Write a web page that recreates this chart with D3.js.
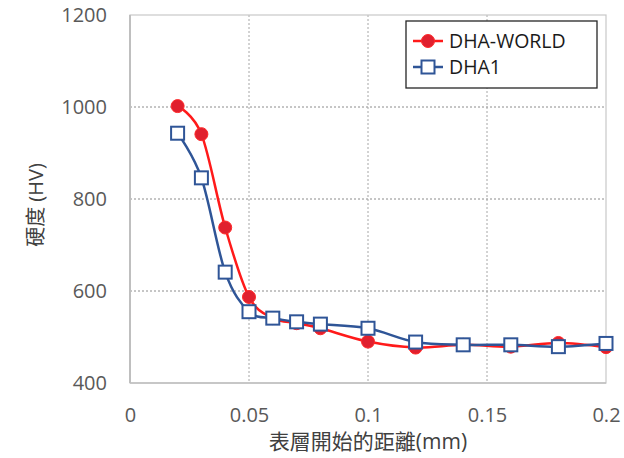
<!DOCTYPE html>
<html><head><meta charset="utf-8">
<script src="https://cdn.jsdelivr.net/npm/d3@7"></script>
<style>
html,body{margin:0;padding:0;background:#fff;}
text{font-family:"Open Sans","Noto Sans","Noto Sans CJK TC",sans-serif;}
</style></head>
<body><svg id="c" width="624" height="458"></svg>
<script>
const depths = [0.02,0.03,0.04,0.05,0.06,0.07,0.08,0.1,0.12,0.14,0.16,0.18,0.2];
const dhaWorld = [1002,941,738,587,541,530,519,490,477,483,479,487,478];
const dha1 = [943,846,641,555,541,533,528,519,489,483,483,479,486];
const seriesNames = ["DHA-WORLD","DHA1"];
const xTicks = [0,0.05,0.1,0.15,0.2];
const yTicks = [400,600,800,1000,1200];
const xTitle = "表層開始的距離(mm)";
const yTitle = "硬度 (HV)";

const svg = d3.select("#c");
const L=130,R=606,T=15,B=383;
const x = d3.scaleLinear().domain([0,0.2]).range([L,R]);
const y = d3.scaleLinear().domain([400,1200]).range([B,T]);

// gridlines
svg.append("g").selectAll("line").data(yTicks.filter(d=>d>400&&d<1200)).join("line")
  .attr("x1",L).attr("x2",R).attr("y1",d=>y(d)).attr("y2",d=>y(d))
  .attr("stroke","#8c8c8c").attr("stroke-width",1).attr("stroke-dasharray","2,2");
svg.append("g").selectAll("line").data(xTicks.filter(d=>d>0&&d<0.2)).join("line")
  .attr("y1",T).attr("y2",B).attr("x1",d=>x(d)).attr("x2",d=>x(d))
  .attr("stroke","#a6a6a6").attr("stroke-width",1).attr("stroke-dasharray","2,2");
// frame
svg.append("rect").attr("x",L).attr("y",T).attr("width",R-L).attr("height",B-T)
  .attr("fill","none").attr("stroke","#c8c8c8").attr("stroke-width",1.2);
svg.append("line").attr("x1",L).attr("x2",L).attr("y1",T).attr("y2",B).attr("stroke","#bfbfbf").attr("stroke-width",2);
svg.append("line").attr("x1",L).attr("x2",R).attr("y1",B).attr("y2",B).attr("stroke","#bfbfbf").attr("stroke-width",1.5);

// axes
const xAxis = svg.append("g").attr("transform",`translate(0,${B})`)
  .call(d3.axisBottom(x).tickValues(xTicks).tickFormat(d=>String(d)).tickSize(0).tickPadding(25));
const yAxis = svg.append("g").attr("transform",`translate(${L},0)`)
  .call(d3.axisLeft(y).tickValues(yTicks).tickFormat(d=>String(d)).tickSize(0).tickPadding(23));
[xAxis,yAxis].forEach(a=>{a.select(".domain").remove();
  a.selectAll("text").attr("font-size",20).attr("fill","#595959")
   .attr("font-family","'Open Sans','Noto Sans',sans-serif");});

svg.append("text").attr("x",(L+R)/2).attr("y",449).attr("text-anchor","middle")
  .attr("font-size",21).attr("fill","#404040").text(xTitle);
svg.append("text").attr("transform","translate(43,205) rotate(-90)").attr("text-anchor","middle")
  .attr("font-size",20).attr("fill","#404040").text(yTitle);

const line = d3.line().x((d,i)=>x(depths[i])).y(d=>y(d)).curve(d3.curveCatmullRom.alpha(0));
const redLine="#ff1a1a", redFill="#e0202e", blue="#2f5597";

svg.append("path").datum(dhaWorld).attr("d",line).attr("fill","none").attr("stroke",redLine).attr("stroke-width",2.5);
svg.append("path").datum(dha1).attr("d",line).attr("fill","none").attr("stroke",blue).attr("stroke-width",2.5);

svg.append("g").selectAll("circle").data(dhaWorld).join("circle")
  .attr("cx",(d,i)=>x(depths[i])).attr("cy",d=>y(d)).attr("r",6.5)
  .attr("fill",redFill).attr("stroke","#ff2a2a").attr("stroke-width",1);
svg.append("g").selectAll("rect").data(dha1).join("rect")
  .attr("x",(d,i)=>x(depths[i])-6.5).attr("y",d=>y(d)-6.5).attr("width",13).attr("height",13)
  .attr("fill","#fff").attr("stroke",blue).attr("stroke-width",2);

// legend
const lg = svg.append("g");
lg.append("rect").attr("x",406).attr("y",21).attr("width",191).attr("height",67)
  .attr("fill","#fff").attr("stroke","#262626").attr("stroke-width",1.3);
const ly=[41,67];
lg.append("line").attr("x1",413).attr("x2",443).attr("y1",ly[0]).attr("y2",ly[0]).attr("stroke",redLine).attr("stroke-width",2.5);
lg.append("circle").attr("cx",428).attr("cy",ly[0]).attr("r",6.5).attr("fill",redFill).attr("stroke","#ff2a2a");
lg.append("line").attr("x1",413).attr("x2",443).attr("y1",ly[1]).attr("y2",ly[1]).attr("stroke",blue).attr("stroke-width",2.5);
lg.append("rect").attr("x",428-6.5).attr("y",ly[1]-6.5).attr("width",13).attr("height",13).attr("fill","#fff").attr("stroke",blue).attr("stroke-width",2);
seriesNames.forEach((n,i)=>lg.append("text").attr("x",449).attr("y",ly[i]+7).attr("font-size",19.5).attr("fill","#1a1a1a").text(n));
</script></body></html>
